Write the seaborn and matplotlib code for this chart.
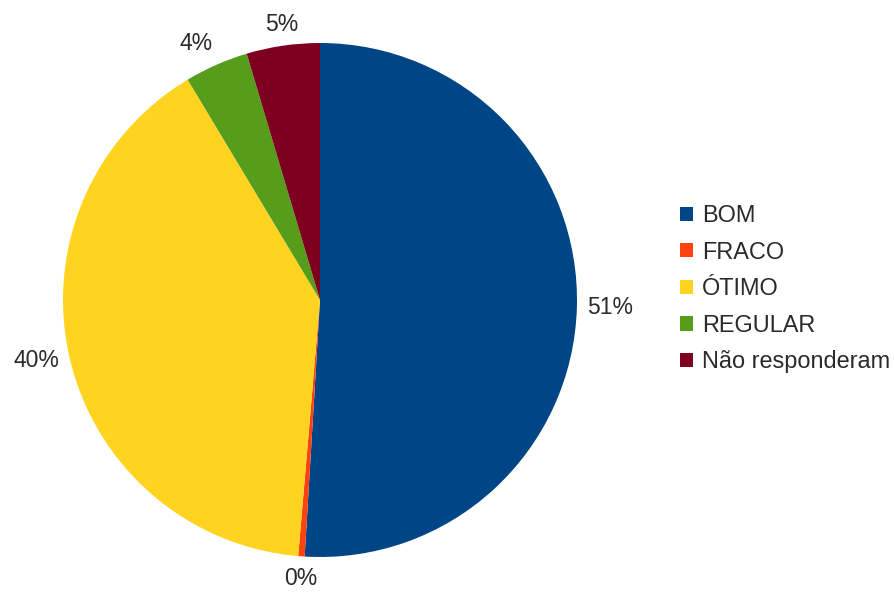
import matplotlib
matplotlib.use("Agg")
import matplotlib.pyplot as plt
import seaborn as sns
import numpy as np
from matplotlib.patches import Patch

categories = ["BOM", "FRACO", "ÓTIMO", "REGULAR", "Não responderam"]
values = [50.9, 0.4, 40.0, 4.0, 4.6]
colors = ["#004586", "#ff420e", "#ffd320", "#579d1c", "#7e0021"]

sns.set_theme(style="white")
plt.rcParams['font.family'] = ['Liberation Sans', 'DejaVu Sans']

palette = sns.color_palette(colors)
txtcol = '#2a2a2a'
fs = 16.5

fig = plt.figure(figsize=(8.95, 5.93), dpi=100)
ax = fig.add_axes([63/895, 36/593, 514/895, 514/593])
wedges, texts = ax.pie(values, colors=palette, startangle=90, counterclock=False,
                       radius=1, wedgeprops=dict(linewidth=0))
ax.set_xlim(-1, 1)
ax.set_ylim(-1, 1)
ax.set_aspect('auto')
ax.axis('off')

total = sum(values)
for w, v in zip(wedges, values):
    ang = np.deg2rad((w.theta1 + w.theta2) / 2)
    c, s = np.cos(ang), np.sin(ang)
    r = 1.04
    ha = 'left' if c > 0.3 else ('right' if c < -0.3 else 'center')
    va = 'bottom' if s > 0.3 else ('top' if s < -0.3 else 'center')
    ax.text(r * c, r * s, f"{100 * v / total:.0f}%", ha=ha, va=va,
            fontsize=fs, color=txtcol, clip_on=False)

handles = [Patch(facecolor=c, edgecolor='none') for c in palette]
fig.legend(handles, categories, loc='upper left', bbox_to_anchor=(680/895, 1-204/593),
           frameon=False, fontsize=16.9, handlelength=0.55, handleheight=0.55,
           handletextpad=0.4, labelspacing=0.58, borderaxespad=0, borderpad=0,
           labelcolor=txtcol)

fig.savefig("out.png", dpi=100)
